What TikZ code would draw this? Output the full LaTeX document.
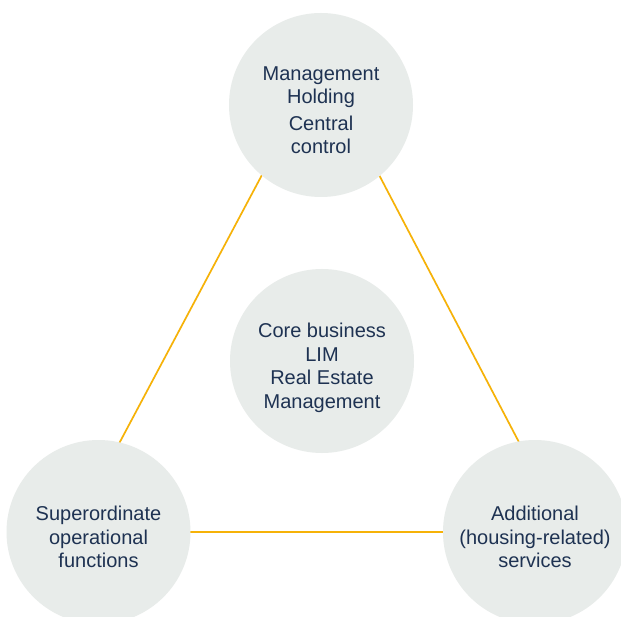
\documentclass[tikz,border=0pt]{standalone}
\usepackage{fontspec}
\setmainfont{Liberation Sans}
\definecolor{circfill}{RGB}{232,236,234}
\definecolor{txtcol}{RGB}{30,50,82}
\definecolor{linecol}{RGB}{246,178,8}
\tikzset{
  bubble/.style={circle, fill=circfill, minimum size=184pt, inner sep=0pt},
  bubtext/.style={text=txtcol, align=center, inner sep=0pt, font=\fontsize{20}{23.5}\selectfont},
  link/.style={draw=linecol, line width=1.7pt}
}
\begin{document}
\begin{tikzpicture}[x=1pt,y=-1pt]
\useasboundingbox (0,0) rectangle (621,617);
\clip (0,0) rectangle (621,617);
\fill[white] (0,0) rectangle (621,617);
\coordinate (tA) at (321,64);
\coordinate (tB) at (72,532);
\coordinate (tC) at (566,532);
\draw[link] (tA) -- (tB) -- (tC) -- cycle;
\node[bubble, label={[bubtext, yshift=-5pt]center:{Management\\Holding\\[3pt]Central\\control}}] (top) at (321,105) {};
\node[bubble, label={[bubtext, yshift=-7pt]center:{Core business\\LIM\\Real Estate\\Management}}] (core) at (322,361) {};
\node[bubble, label={[bubtext, yshift=-5pt]center:{Superordinate\\operational\\functions}}] (left) at (98.5,532) {};
\node[bubble, label={[bubtext, yshift=-5pt]center:{Additional\\(housing-related)\\services}}] (right) at (535,532) {};
\end{tikzpicture}
\end{document}
